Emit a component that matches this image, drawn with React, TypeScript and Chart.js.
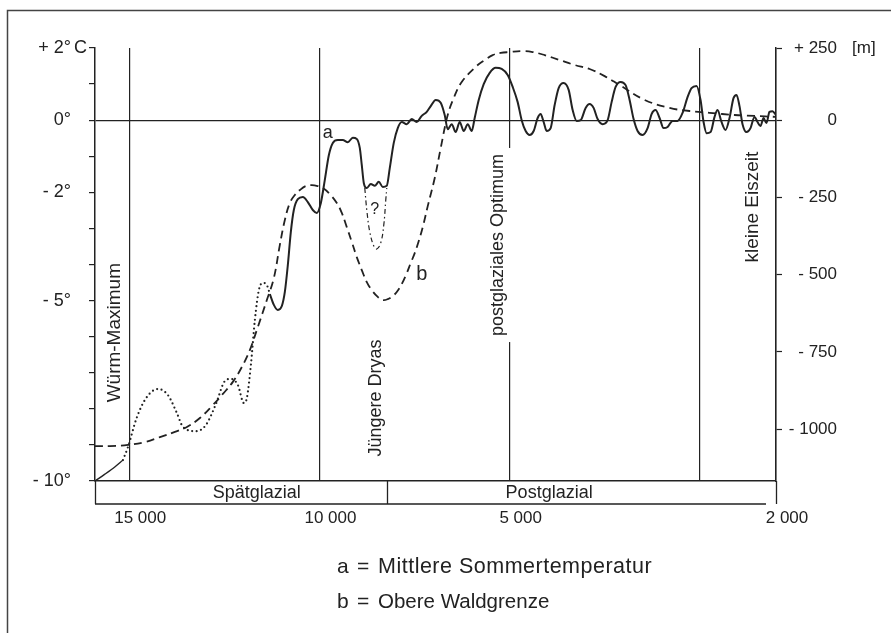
import React, { useEffect, useRef } from 'react';
import { Chart, registerables } from 'chart.js';

Chart.register(...registerables);

const FONT = '"Liberation Sans", Arial, Helvetica, sans-serif';
const INK = '#222222';

// ---- time axis (calendar years, negative = BC) ----
const xMin = -15900;
const xMax = 2000;
const xTickValues = [-15000, -10000, -5000, 0, 2000];
const xTickLabels = ['15 000', '10 000', '5 000', '', '2 000'];

// ---- left axis: mean summer temperature (°C) ----
const tempMin = -10;
const tempMax = 2;
const leftLabelValues = [2, 0, -2, -5, -10];
const leftLabelTexts = ['+ 2°', '0°', '- 2°', '- 5°', '- 10°'];

// ---- right axis: upper timberline (m relative to today) ----
const metersMin = -1168;
const metersMax = 234;
const rightTickValues = [234, 0, -250, -500, -750, -1000];
const rightTickLabels = ['+ 250', '0', '- 250', '- 500', '- 750', '- 1000'];

// ---- curve a: Mittlere Sommertemperatur ----
const aEarlyYears = [-15900, -15640, -15380, -15165];
const aEarlyTemps = [-10.0, -9.81, -9.61, -9.42];

const aDottedYears = [-15165, -15034, -14798, -14535, -14246, -13983, -13747, -13589, -13248, -12985, -12723, -12486, -12329, -12145, -11987, -11908, -11803, -11698, -11593, -11488, -11383, -11304];
const aDottedTemps = [-9.42, -9.06, -8.23, -7.67, -7.45, -7.62, -8.12, -8.5, -8.62, -8.45, -7.87, -7.23, -7.17, -7.34, -7.84, -7.7, -6.79, -5.54, -4.71, -4.51, -4.57, -4.82];

const aYears = [-11304, -11199, -11094, -10989, -10910, -10831, -10753, -10674, -10569, -10437, -10306, -10175, -10070, -9965, -9860, -9754, -9649, -9518, -9387, -9255, -9124, -9019, -8940, -8888, -8835, -8756, -8651, -8546, -8441, -8336, -8231, -8152, -8047, -7942, -7837, -7706, -7574, -7443, -7312, -7180, -7075, -6944, -6813, -6708, -6629, -6524, -6419, -6314, -6208, -6103, -5998, -5920, -5814, -5683, -5525, -5368, -5210, -5053, -4921, -4790, -4685, -4580, -4475, -4370, -4265, -4186, -4107, -4028, -3923, -3818, -3713, -3582, -3450, -3345, -3240, -3135, -3004, -2899, -2794, -2689, -2557, -2426, -2321, -2216, -2084, -1953, -1848, -1743, -1638, -1507, -1375, -1270, -1165, -1060, -955, -850, -719, -587, -456, -325, -220, -88, 17, 96, 178, 280, 385, 463, 568, 673, 778, 883, 962, 1041, 1120, 1225, 1330, 1435, 1514, 1593, 1672, 1750, 1829, 1908, 2000];
const aTemps = [-4.82, -5.12, -5.26, -5.15, -4.76, -4.01, -3.1, -2.49, -2.19, -2.13, -2.27, -2.49, -2.57, -2.3, -1.66, -0.97, -0.63, -0.55, -0.55, -0.61, -0.49, -0.52, -0.77, -1.24, -1.74, -1.88, -1.77, -1.82, -1.71, -1.85, -1.82, -1.33, -0.63, -0.22, -0.05, -0.11, 0.03, -0.05, 0.12, 0.23, 0.39, 0.56, 0.48, 0.14, -0.25, -0.11, -0.33, -0.05, -0.3, -0.11, -0.3, 0.06, 0.56, 1.0, 1.31, 1.45, 1.42, 1.25, 0.92, 0.5, 0.0, -0.3, -0.41, -0.3, 0.06, 0.17, -0.05, -0.3, -0.22, 0.42, 0.89, 1.03, 0.84, 0.28, -0.02, 0.0, 0.34, 0.45, 0.34, 0.03, -0.11, 0.0, 0.5, 0.92, 1.06, 0.97, 0.56, 0.03, -0.3, -0.41, -0.22, 0.17, 0.28, 0.06, -0.22, -0.19, -0.02, -0.02, 0.2, 0.64, 0.89, 0.95, 0.56, -0.05, -0.36, -0.33, 0.09, 0.28, -0.05, -0.27, 0.06, 0.61, 0.7, 0.39, -0.11, -0.33, -0.22, 0.09, -0.05, -0.16, 0.06, -0.08, 0.23, 0.25, 0.14];

// uncertain Younger Dryas minimum ("?")
const aQueryYears = [-8809, -8756, -8677, -8572, -8494, -8389, -8310, -8257, -8231];
const aQueryTemps = [-1.88, -2.49, -3.1, -3.49, -3.57, -3.4, -2.91, -2.21, -1.88];

// ---- curve b: Obere Waldgrenze (m) ----
const bYears = [-15900, -15507, -15034, -14588, -14194, -13800, -13484, -13143, -12801, -12539, -12276, -12040, -11830, -11619, -11383, -11199, -11042, -10910, -10779, -10648, -10516, -10359, -10201, -10043, -9912, -9728, -9544, -9413, -9282, -9150, -9019, -8888, -8756, -8625, -8467, -8336, -8205, -8073, -7968, -7837, -7706, -7601, -7496, -7390, -7285, -7154, -6970, -6813, -6629, -6471, -6261, -5867, -5657, -5447, -5237, -5000, -4685, -4396, -4081, -3687, -3293, -2899, -2505, -2111, -1454, -797, -272, 253, 910, 1435, 2000];
const bMeters = [-1055, -1055, -1051, -1042, -1026, -1009, -993, -964, -922, -886, -847, -799, -744, -669, -582, -511, -404, -323, -268, -242, -226, -213, -210, -213, -219, -239, -268, -300, -346, -394, -443, -485, -524, -550, -572, -582, -579, -569, -556, -530, -495, -462, -430, -391, -346, -278, -187, -90, 17, 72, 124, 176, 195, 211, 218, 221, 224, 221, 211, 195, 179, 166, 143, 114, 66, 40, 30, 24, 17, 14, 11];

// ---- periods ----
const periodBoundaryYear = -8230;
const periodNames = ['Spätglazial', 'Postglazial'];
const periodLabelYears = [-11646, -3963];

// ---- annotations (text, year, °C) ----
const verticalNotes = [
  { text: 'Würm-Maximum', year: -15390, temp: -5.89, size: 19, backdrop: false },
  { text: 'Jüngere Dryas', year: -8520, temp: -7.7, size: 18, backdrop: false },
  { text: 'postglaziales Optimum', year: -5315, temp: -3.46, size: 18, backdrop: true },
  { text: 'kleine Eiszeit', year: 1383, temp: -2.41, size: 19, backdrop: false },
];
const curveNotes = [
  { text: 'a', year: -9781, temp: -0.36, size: 18 },
  { text: 'b', year: -7312, temp: -4.29, size: 20 },
  { text: '?', year: -8546, temp: -2.49, size: 16 },
];
const legendKeys = ['a', 'b'];
const legendTexts = ['Mittlere Sommertemperatur', 'Obere Waldgrenze'];

const zip = (xs: number[], ys: number[]) => xs.map((x, i) => ({ x, y: ys[i] }));

const figurePlugin = {
  id: 'figureDecor',
  beforeDraw(chart: any) {
    const ctx = chart.ctx;
    ctx.save();
    ctx.fillStyle = '#ffffff';
    ctx.fillRect(0, 0, chart.width, chart.height);
    ctx.restore();
  },
  afterDraw(chart: any) {
    const { ctx, chartArea, scales } = chart;
    const x = scales.x;
    const y = scales.y;
    const y1 = scales.y1;
    ctx.save();
    ctx.fillStyle = INK;
    ctx.strokeStyle = INK;

    // outer frame (left and top edges visible)
    ctx.lineWidth = 1.5;
    ctx.strokeStyle = '#444';
    ctx.beginPath();
    ctx.moveTo(7.5, chart.height);
    ctx.lineTo(7.5, 10.5);
    ctx.lineTo(chart.width, 10.5);
    ctx.stroke();

    // period band below the time axis
    ctx.strokeStyle = INK;
    ctx.lineWidth = 1.3;
    const bandTop = chartArea.bottom;
    const bandBottom = chartArea.bottom + 23;
    const xb = x.getPixelForValue(periodBoundaryYear);
    ctx.beginPath();
    ctx.moveTo(chartArea.left, bandBottom);
    ctx.lineTo(chartArea.right - 10, bandBottom);
    [chartArea.left, xb, chartArea.right].forEach((px: number) => {
      ctx.moveTo(Math.round(px) + 0.5, bandTop);
      ctx.lineTo(Math.round(px) + 0.5, bandBottom);
    });
    ctx.stroke();
    ctx.font = `18px ${FONT}`;
    ctx.textAlign = 'center';
    ctx.textBaseline = 'middle';
    periodNames.forEach((name, i) => {
      ctx.fillText(name, x.getPixelForValue(periodLabelYears[i]), bandTop + 12);
    });

    // unit suffixes on the axes
    ctx.textAlign = 'left';
    ctx.font = `18px ${FONT}`;
    ctx.fillText('C', chartArea.left - 21, y.getPixelForValue(tempMax));
    ctx.font = `17px ${FONT}`;
    ctx.fillText('[m]', chartArea.right + 76, y1.getPixelForValue(metersMax));

    // rotated notes on the time markers
    verticalNotes.forEach((n) => {
      const cx = x.getPixelForValue(n.year);
      const cy = y.getPixelForValue(n.temp);
      ctx.font = `${n.size}px ${FONT}`;
      const w = ctx.measureText(n.text).width;
      if (n.backdrop) {
        ctx.fillStyle = '#ffffff';
        ctx.fillRect(cx - 11, cy - w / 2 - 6, 25, w + 12);
        ctx.fillStyle = INK;
      }
      ctx.save();
      ctx.translate(cx, cy);
      ctx.rotate(-Math.PI / 2);
      ctx.textAlign = 'center';
      ctx.textBaseline = 'middle';
      ctx.fillText(n.text, 0, 0);
      ctx.restore();
    });

    // curve letters
    ctx.textAlign = 'center';
    ctx.textBaseline = 'middle';
    curveNotes.forEach((n) => {
      ctx.font = `${n.size}px ${FONT}`;
      ctx.fillText(n.text, x.getPixelForValue(n.year), y.getPixelForValue(n.temp));
    });

    // key
    ctx.textAlign = 'left';
    const keyRows = [567, 602];
    legendKeys.forEach((k, i) => {
      ctx.font = `21px ${FONT}`;
      const ry = keyRows[i];
      ctx.fillText(k, 337, ry);
      ctx.fillText('=', 357, ry);
      ctx.font = i === 0 ? `21.5px ${FONT}` : `20.5px ${FONT}`;
      (ctx as any).letterSpacing = i === 0 ? '0.5px' : '0px';
      ctx.fillText(legendTexts[i], 378, ry);
      (ctx as any).letterSpacing = '0px';
    });

    ctx.restore();
  },
};

export default function App() {
  const canvasRef = useRef<HTMLCanvasElement | null>(null);

  useEffect(() => {
    if (!canvasRef.current) return;
    Chart.defaults.font.family = FONT;
    Chart.defaults.color = INK;
    const chart = new Chart(canvasRef.current, {
      type: 'line',
      data: {
        datasets: [
          {
            label: 'a (Beginn)',
            data: zip(aEarlyYears, aEarlyTemps),
            yAxisID: 'y',
            borderColor: INK,
            borderWidth: 1.4,
            tension: 0.3,
            pointRadius: 0,
          },
          {
            label: 'a (unsicher)',
            data: zip(aDottedYears, aDottedTemps),
            yAxisID: 'y',
            borderColor: INK,
            borderWidth: 2.2,
            borderDash: [0, 4.5],
            borderCapStyle: 'round',
            cubicInterpolationMode: 'monotone',
            pointRadius: 0,
          },
          {
            label: 'a = Mittlere Sommertemperatur',
            data: zip(aYears, aTemps),
            yAxisID: 'y',
            borderColor: INK,
            borderWidth: 2,
            cubicInterpolationMode: 'monotone',
            pointRadius: 0,
          },
          {
            label: 'a (?)',
            data: zip(aQueryYears, aQueryTemps),
            yAxisID: 'y',
            borderColor: INK,
            borderWidth: 1.2,
            borderDash: [5, 3, 1.5, 3],
            tension: 0.4,
            pointRadius: 0,
          },
          {
            label: 'b = Obere Waldgrenze',
            data: zip(bYears, bMeters),
            yAxisID: 'y1',
            borderColor: INK,
            borderWidth: 1.8,
            borderDash: [8, 5],
            tension: 0.4,
            pointRadius: 0,
          },
        ],
      },
      options: {
        animation: false,
        responsive: false,
        events: [],
        layout: { padding: { left: 0, right: 54, top: 48, bottom: 0 } },
        plugins: {
          legend: { display: false },
          tooltip: { enabled: false },
          title: { display: false },
        },
        elements: { point: { radius: 0 } },
        scales: {
          x: {
            type: 'linear',
            min: xMin,
            max: xMax,
            afterBuildTicks: (s: any) => {
              s.ticks = xTickValues.map((v) => ({ value: v }));
            },
            afterFit: (s: any) => {
              s.height = 152;
            },
            grid: { color: INK, lineWidth: 1.2, drawTicks: false },
            border: { display: true, color: INK, width: 1.5 },
            ticks: {
              autoSkip: false,
              maxRotation: 0,
              padding: 27,
              labelOffset: 11,
              color: INK,
              font: { size: 17, family: FONT },
              callback: (v: any) => {
                const i = xTickValues.indexOf(Number(v));
                return i >= 0 ? xTickLabels[i] : '';
              },
            },
          },
          y: {
            type: 'linear',
            position: 'left',
            min: tempMin,
            max: tempMax,
            afterFit: (s: any) => {
              s.width = 95;
            },
            grid: {
              color: (c: any) => (c.tick && c.tick.value === 0 ? INK : 'rgba(0,0,0,0)'),
              lineWidth: 1.2,
              drawTicks: true,
              tickLength: 6,
              tickColor: INK,
              tickWidth: 1.2,
            },
            border: { display: true, color: INK, width: 1.5 },
            ticks: {
              stepSize: 1,
              autoSkip: false,
              padding: 18,
              color: INK,
              font: { size: 18, family: FONT },
              callback: (v: any) => {
                const i = leftLabelValues.indexOf(Number(v));
                return i >= 0 ? leftLabelTexts[i] : '';
              },
            },
          },
          y1: {
            type: 'linear',
            position: 'right',
            min: metersMin,
            max: metersMax,
            afterBuildTicks: (s: any) => {
              s.ticks = rightTickValues.map((v) => ({ value: v }));
            },
            afterFit: (s: any) => {
              s.width = 61;
            },
            grid: {
              drawOnChartArea: false,
              drawTicks: true,
              tickLength: 6,
              tickColor: INK,
              tickWidth: 1.2,
              color: INK,
            },
            border: { display: true, color: INK, width: 1.5 },
            ticks: {
              autoSkip: false,
              crossAlign: 'far',
              padding: 8,
              color: INK,
              font: { size: 17, family: FONT },
              callback: (v: any) => {
                const i = rightTickValues.indexOf(Number(v));
                return i >= 0 ? rightTickLabels[i] : '';
              },
            },
          },
        },
      } as any,
      plugins: [figurePlugin],
    } as any);
    return () => chart.destroy();
  }, []);

  return (
    <div style={{ position: 'absolute', left: 0, top: 0, width: 891, height: 633, background: '#fff' }}>
      <canvas ref={canvasRef} width={891} height={633} style={{ display: 'block' }} />
    </div>
  );
}
